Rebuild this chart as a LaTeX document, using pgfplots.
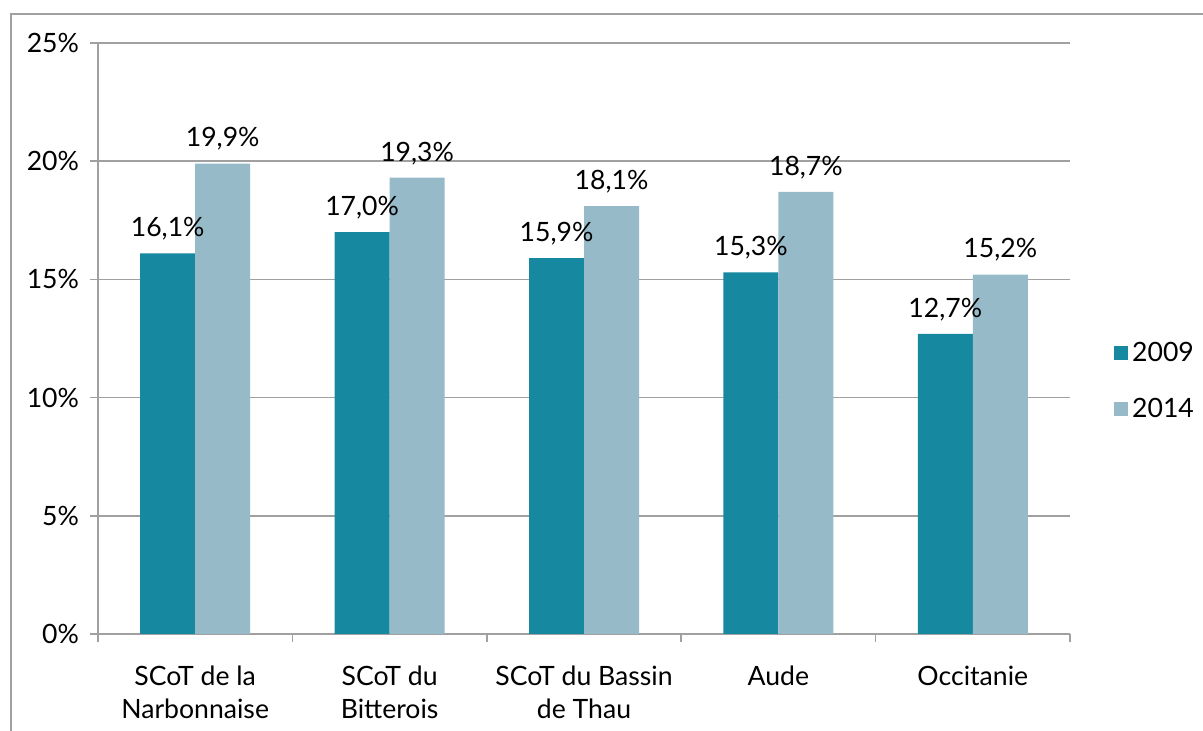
\documentclass[border=0pt]{standalone}
\usepackage{pgfplots}
\pgfplotsset{compat=1.18}
\usepackage{fontspec}
\setmainfont{Lato}
\definecolor{cA}{HTML}{1689A0}
\definecolor{cB}{HTML}{97BAC9}
\definecolor{gridc}{HTML}{A0A0A0}
\begin{document}
\begin{tikzpicture}
\path[use as bounding box] (-49pt,-48.5pt) rectangle (552.5pt,317pt);
\begin{axis}[
  at={(0,0)}, anchor=south west,
  scale only axis, width=486pt, height=295.5pt,
  ybar=0pt, bar width=27.5pt,
  xmin=-0.5, xmax=4.5, ymin=0, ymax=25,
  xtick={0,1,2,3,4},
  xticklabels={{SCoT de la\\Narbonnaise},{SCoT du\\Bitterois},{SCoT du Bassin\\de Thau},{Aude},{Occitanie}},
  xticklabel style={align=center, font=\fontsize{13.3}{16.5}\selectfont, yshift=-8.5pt},
  major x tick style={draw=none},
  minor xtick={-0.5,0.5,1.5,2.5,3.5,4.5},
  minor tick length=4pt,
  minor x tick style={gridc, line width=0.8pt},
  ytick={0,5,10,15,20,25},
  yticklabels={0\%,5\%,10\%,15\%,20\%,25\%},
  yticklabel style={font=\fontsize{13.3}{15}\selectfont, xshift=-2pt},
  ymajorgrids, grid style={gridc, line width=0.8pt},
  major y tick style={gridc, line width=0.8pt},
  major tick length=4pt,
  tick align=outside,
  axis x line*=bottom, axis y line*=left,
  axis line style={gridc, line width=0.8pt},
  x axis line style={-}, y axis line style={-},
  point meta=explicit symbolic,
  nodes near coords,
  every node near coord/.append style={font=\fontsize{13.3}{15}\selectfont, anchor=south, yshift=3pt},
  legend style={at={(1.045,0.428)}, anchor=west, draw=none, font=\fontsize{13.3}{15}\selectfont, row sep=13pt, inner sep=0pt},
  legend cell align=left,
  legend image code/.code={\fill[#1] (0pt,-3.5pt) rectangle (7pt,3.5pt);},
  clip=false,
]
\addplot[fill=cA, draw=none] coordinates {
 (0,16.1) [16,1\%]
 (1,17.0) [17,0\%]
 (2,15.9) [15,9\%]
 (3,15.3) [15,3\%]
 (4,12.7) [12,7\%]
};
\addplot[fill=cB, draw=none] coordinates {
 (0,19.9) [19,9\%]
 (1,19.3) [19,3\%]
 (2,18.1) [18,1\%]
 (3,18.7) [18,7\%]
 (4,15.2) [15,2\%]
};
\legend{2009,2014}
\end{axis}
\draw[gridc, line width=0.8pt] (-43.5pt,-48.5pt) -- (-43.5pt,310pt) -- (552.5pt,310pt);
\end{tikzpicture}
\end{document}
